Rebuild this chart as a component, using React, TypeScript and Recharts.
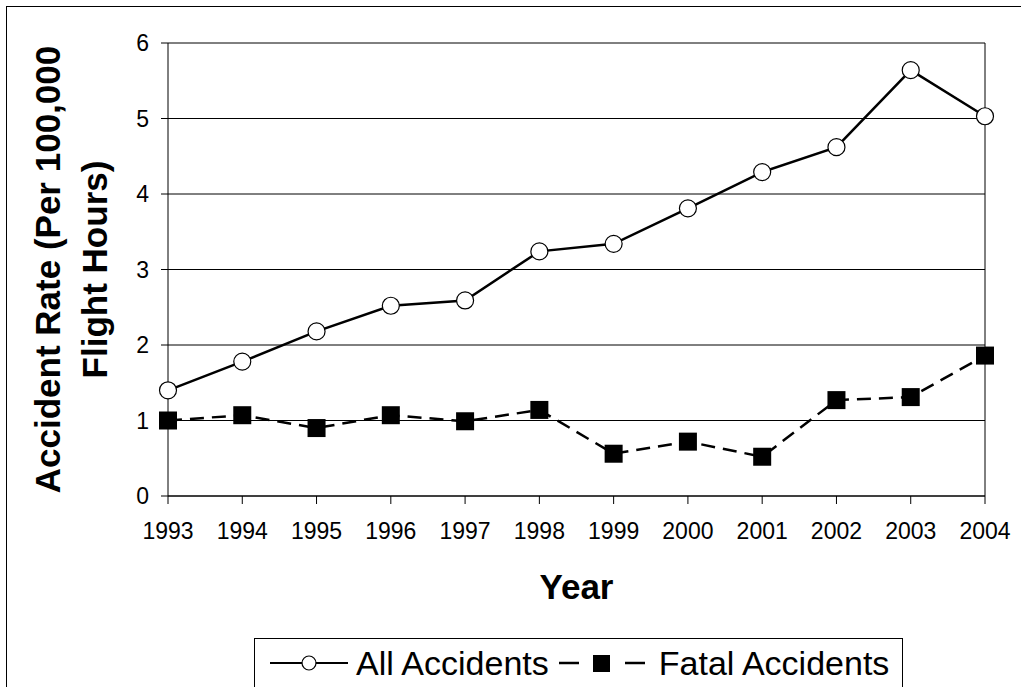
import React from 'react';
import { LineChart, Line, XAxis, YAxis, CartesianGrid, Legend, ReferenceLine } from 'recharts';

const years = ['1993', '1994', '1995', '1996', '1997', '1998', '1999', '2000', '2001', '2002', '2003', '2004'];
const allAccidents = [1.4, 1.78, 2.18, 2.52, 2.59, 3.24, 3.34, 3.81, 4.29, 4.62, 5.64, 5.03];
const fatalAccidents = [1.0, 1.07, 0.9, 1.07, 0.99, 1.14, 0.56, 0.72, 0.52, 1.27, 1.31, 1.86];
const yTicks = [0, 1, 2, 3, 4, 5, 6];

const FONT = '"Liberation Sans", Arial, sans-serif';

const data = years.map((year, i) => ({ year, all: allAccidents[i], fatal: fatalAccidents[i] }));

// filled square marker for the fatal series
const SquareDot = (props: any) => {
  const { cx, cy, index } = props;
  if (cx == null || cy == null) return null;
  return <rect key={`sq-${index}`} x={cx - 9} y={cy - 9} width={18} height={18} fill="#000" />;
};

const YTitle = (props: any) => {
  const { viewBox } = props;
  const cy = viewBox.y + viewBox.height / 2;
  return (
    <g fontFamily={FONT} fontWeight="bold" fontSize={35} fill="#000">
      <text x={viewBox.x + 60} y={cy} textAnchor="middle" transform={`rotate(-90, ${viewBox.x + 60}, ${cy})`}>
        Accident Rate (Per 100,000
      </text>
      <text x={viewBox.x + 107} y={cy} textAnchor="middle" transform={`rotate(-90, ${viewBox.x + 107}, ${cy})`}>
        Flight Hours)
      </text>
    </g>
  );
};

const XTitle = (props: any) => {
  const { viewBox } = props;
  return (
    <text
      x={viewBox.x + viewBox.width / 2}
      y={viewBox.y + 103}
      textAnchor="middle"
      fontFamily={FONT}
      fontWeight="bold"
      fontSize={35}
      fill="#000"
    >
      Year
    </text>
  );
};

const LegendBox = () => (
  <div
    style={{
      boxSizing: 'border-box',
      width: 649,
      height: 49,
      borderTop: '1px solid #000',
      borderLeft: '1px solid #000',
      borderRight: '1px solid #000',
      background: '#fff',
      display: 'flex',
      alignItems: 'center',
      paddingLeft: 15,
      fontFamily: FONT,
      fontSize: 34,
      color: '#000',
      lineHeight: 1,
    }}
  >
    <svg width={78} height={20} style={{ marginRight: 8 }}>
      <line x1={0} y1={10} x2={78} y2={10} stroke="#000" strokeWidth={2} />
      <circle cx={39} cy={10} r={7} fill="#fff" stroke="#000" strokeWidth={1.2} />
    </svg>
    <span>All Accidents</span>
    <svg width={86} height={20} style={{ marginLeft: 10, marginRight: 14 }}>
      <line x1={0} y1={10} x2={20} y2={10} stroke="#000" strokeWidth={2.5} />
      <rect x={34} y={2} width={17} height={17} fill="#000" />
      <line x1={66} y1={10} x2={86} y2={10} stroke="#000" strokeWidth={2.5} />
    </svg>
    <span>Fatal Accidents</span>
  </div>
);

export default function App() {
  return (
    <div style={{ position: 'absolute', left: 0, top: 0, width: 1021, height: 687, overflow: 'hidden', background: '#fff' }}>
      <div
        style={{
          position: 'absolute',
          left: 6,
          top: 6,
          width: 1100,
          height: 800,
          borderLeft: '1.5px solid #000',
          borderTop: '1.5px solid #000',
        }}
      />
      <LineChart width={1021} height={687} data={data} margin={{ top: 43, right: 36, left: 0, bottom: 151 }}>
        <CartesianGrid vertical={false} stroke="#000" strokeWidth={1} />
        <XAxis
          dataKey="year"
          height={40}
          interval={0}
          tickSize={8}
          tickMargin={19}
          axisLine={{ stroke: '#000' }}
          tickLine={{ stroke: '#000' }}
          tick={{ fill: '#000', fontSize: 23, fontFamily: FONT }}
          label={{ content: <XTitle /> }}
        />
        <YAxis
          width={168}
          domain={[0, 6]}
          ticks={yTicks}
          tickSize={7}
          tickMargin={12}
          axisLine={{ stroke: '#000' }}
          tickLine={{ stroke: '#000' }}
          tick={{ fill: '#000', fontSize: 23, fontFamily: FONT }}
          label={{ content: <YTitle /> }}
        />
        <ReferenceLine x="2004" stroke="#000" strokeWidth={1} />
        <Line
          dataKey="fatal"
          stroke="#000"
          strokeWidth={2.5}
          strokeDasharray="14 8"
          dot={<SquareDot />}
          isAnimationActive={false}
        />
        <Line
          dataKey="all"
          stroke="#000"
          strokeWidth={2.5}
          dot={{ r: 8.5, fill: '#fff', stroke: '#000', strokeWidth: 1.2 }}
          isAnimationActive={false}
        />
        <Legend
          layout="horizontal"
          verticalAlign="middle"
          align="center"
          wrapperStyle={{ left: 254, top: 638, width: 649 }}
          content={<LegendBox />}
        />
      </LineChart>
    </div>
  );
}
